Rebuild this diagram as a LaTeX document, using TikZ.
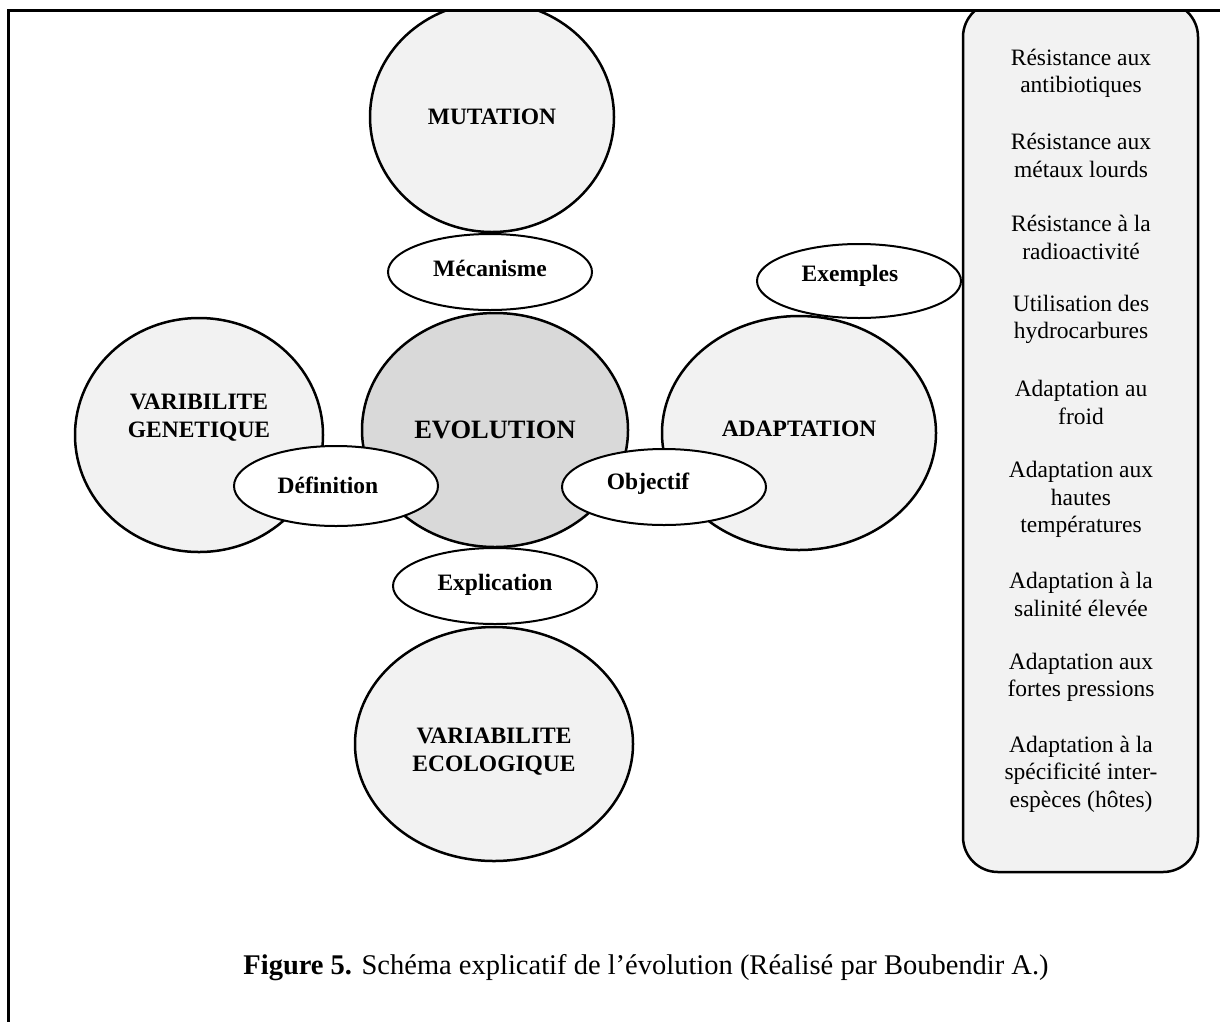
\documentclass[tikz,border=0pt]{standalone}
\usepackage{fontspec}
\setmainfont{Liberation Serif}
\usetikzlibrary{shapes.geometric}
\definecolor{lightg}{HTML}{F2F2F2}
\definecolor{midg}{HTML}{D9D9D9}
\tikzset{
 bigell/.style={ellipse, draw=black, line width=2.5pt, fill=lightg, inner sep=0pt},
 smallell/.style={ellipse, draw=black, line width=2pt, fill=white, inner sep=0pt, minimum width=204pt, minimum height=76pt},
 bigtxt/.style={font=\fontsize{23.5}{28}\selectfont\bfseries, align=center, inner sep=0pt},
 itemtxt/.style={font=\fontsize{23.5}{27.5}\selectfont, align=center, inner sep=0pt},
 exbox/.style={draw=black, line width=2.5pt, fill=lightg, rounded corners=35pt, inner sep=0pt},
}
\begin{document}
\begin{tikzpicture}[x=1pt,y=-1pt]
\useasboundingbox (0,0) rectangle (1220,1021);
\begin{scope}
\clip (8,10) rectangle (1230,1030);
\node[exbox, minimum width=235pt, minimum height=870pt] (box) at (1080.5,437) {};
\node[bigell, minimum width=244pt, minimum height=230pt] (mut) at (492,117) {};
\node[bigell, fill=midg, minimum width=266pt, minimum height=234pt] (evo) at (495,430) {};
\node[bigell, minimum width=248pt, minimum height=234pt] (gen) at (199,435) {};
\node[bigell, minimum width=274pt, minimum height=234pt] (ada) at (799,433) {};
\node[bigell, minimum width=278pt, minimum height=234pt] (eco) at (494,744) {};
\node[smallell] (mec) at (490,272) {};
\node[smallell, minimum height=80pt] (def) at (336,486) {};
\node[smallell] (obj) at (664,487) {};
\node[smallell, minimum height=74pt] (exe) at (859,281) {};
\node[smallell] (exp) at (495,586) {};
\end{scope}
\draw[line width=3pt] (1225,10) -- (8,10) -- (8,1025);
% big labels
\node[bigtxt] (mutt) at (492,117) {MUTATION};
\node[bigtxt, font=\fontsize{26.5}{30}\selectfont\bfseries] (evot) at (495,430) {EVOLUTION};
\node[bigtxt] (gent) at (199,418) {VARIBILITE\\GENETIQUE};
\node[bigtxt] (adat) at (799,429) {ADAPTATION};
\node[bigtxt] (ecot) at (494,752) {VARIABILITE\\ECOLOGIQUE};
% small labels
\node[bigtxt] (mect) at (490,268) {Mécanisme};
\node[bigtxt] (deft) at (328,485) {Définition};
\node[bigtxt] (objt) at (648,484) {Objectif};
\node[bigtxt] (exet) at (850,276) {Exemples};
\node[bigtxt] (expt) at (495,585) {Explication};
% examples list
\node[itemtxt] (i1) at (1081,73.5) {Résistance aux\\antibiotiques};
\node[itemtxt] (i2) at (1081,155.5) {Résistance aux\\métaux lourds};
\node[itemtxt] (i3) at (1081,237.5) {Résistance à la\\radioactivité};
\node[itemtxt] (i4) at (1081,319.5) {Utilisation des\\hydrocarbures};
\node[itemtxt] (i5) at (1081,402.5) {Adaptation au\\froid};
\node[itemtxt] (i6) at (1081,499.5) {Adaptation aux\\hautes\\températures};
\node[itemtxt] (i7) at (1081,594.5) {Adaptation à la\\salinité élevée};
\node[itemtxt] (i8) at (1081,677.5) {Adaptation aux\\fortes pressions};
\node[itemtxt] (i9) at (1081,774) {Adaptation à la\\spécificité inter-\\espèces (hôtes)};
% caption
\node[font=\fontsize{28.5}{32}\selectfont, inner sep=0pt] (cap) at (646,968) {\textbf{Figure 5.} Schéma explicatif de l’évolution (Réalisé par Boubendir A.)};
\end{tikzpicture}
\end{document}
